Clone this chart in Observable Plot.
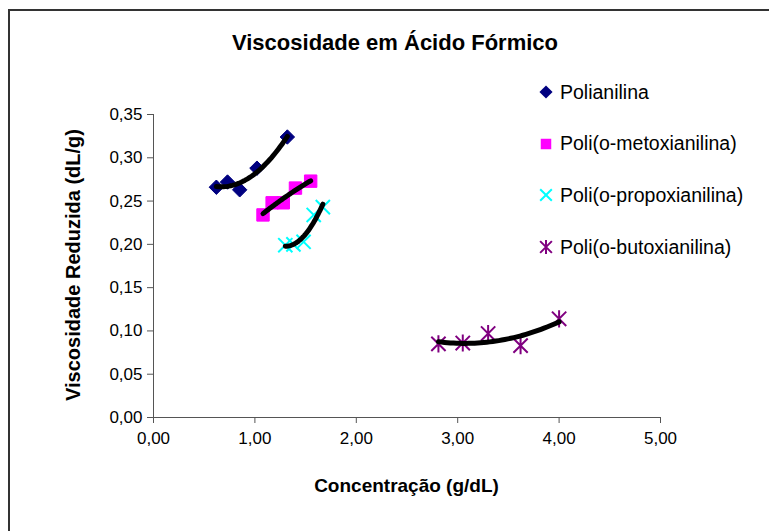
<!DOCTYPE html>
<html>
<head>
<meta charset="utf-8">
<script src="https://cdn.jsdelivr.net/npm/d3@7"></script>
<script src="https://cdn.jsdelivr.net/npm/@observablehq/plot@0.6"></script>
<style>
  body { margin: 0; background: #fff; }
  #wrap { position: relative; width: 769px; height: 531px; overflow: hidden; background: #fff;
          font-family: "Liberation Sans", Arial, sans-serif; color: #000; }
  #frame { position: absolute; left: 8px; top: 9px; width: 900px; height: 700px; border: 2px solid #333; box-sizing: border-box; }
  #title { position: absolute; left: 0; width: 790px; top: 30px; text-align: center; font-weight: bold; font-size: 22px; }
  #chart { position: absolute; left: 0; top: 0; }
  .xlab { position: absolute; left: 153px; width: 507px; top: 475px; text-align: center; font-weight: bold; font-size: 19px; }
  .ylab { position: absolute; left: 73px; top: 265px; transform: translate(-50%, -50%) rotate(-90deg); white-space: nowrap; font-weight: bold; font-size: 20px; }
  #legend { position: absolute; left: 538px; top: 80px; }
  .item { position: absolute; left: 0; height: 24px; display: flex; align-items: center; white-space: nowrap; font-size: 19.5px; }
  .item svg { margin-right: 6px; }
</style>
</head>
<body>
<div id="wrap">
  <div id="frame"></div>
  <div id="title">Viscosidade em Ácido Fórmico</div>
  <div id="chart"></div>
  <div class="xlab">Concentração (g/dL)</div>
  <div class="ylab">Viscosidade Reduzida (dL/g)</div>
  <div id="legend"></div>
</div>
<script>
// ---- data ----
const seriesNames = ["Polianilina", "Poli(o-metoxianilina)", "Poli(o-propoxianilina)", "Poli(o-butoxianilina)"];
const seriesColors = ["#000080", "#FF00FF", "#00FFFF", "#800080"];

const polianilinaX = [0.62, 0.73, 0.85, 1.02, 1.32];
const polianilinaY = [0.266, 0.272, 0.263, 0.288, 0.324];

const metoxiX = [1.08, 1.17, 1.28, 1.40, 1.55];
const metoxiY = [0.234, 0.248, 0.248, 0.265, 0.273];

const propoxiX = [1.30, 1.38, 1.48, 1.58, 1.67];
const propoxiY = [0.199, 0.200, 0.203, 0.234, 0.243];

const butoxiX = [2.81, 3.05, 3.30, 3.62, 4.00];
const butoxiY = [0.085, 0.086, 0.097, 0.083, 0.114];

const xTicks = [0, 1, 2, 3, 4, 5];
const yTicks = [0, 0.05, 0.10, 0.15, 0.20, 0.25, 0.30, 0.35];

// ---- build tables ----
const xs = [polianilinaX, metoxiX, propoxiX, butoxiX];
const ys = [polianilinaY, metoxiY, propoxiY, butoxiY];
const points = [];
xs.forEach((arr, s) => arr.forEach((x, i) => points.push({series: seriesNames[s], x, y: ys[s][i]})));

// order-2 polynomial least-squares trendline (as in the spreadsheet's trendline)
function polyFit2(X, Y) {
  let n = X.length, sx = 0, sx2 = 0, sx3 = 0, sx4 = 0, sy = 0, sxy = 0, sx2y = 0;
  for (let i = 0; i < n; i++) {
    const x = X[i], y = Y[i];
    sx += x; sx2 += x*x; sx3 += x*x*x; sx4 += x*x*x*x;
    sy += y; sxy += x*y; sx2y += x*x*y;
  }
  const A = [[n, sx, sx2, sy], [sx, sx2, sx3, sxy], [sx2, sx3, sx4, sx2y]];
  for (let c = 0; c < 3; c++) {
    for (let r = c + 1; r < 3; r++) {
      const f = A[r][c] / A[c][c];
      for (let k = c; k < 4; k++) A[r][k] -= f * A[c][k];
    }
  }
  const b = [0, 0, 0];
  for (let r = 2; r >= 0; r--) {
    let s = A[r][3];
    for (let k = r + 1; k < 3; k++) s -= A[r][k] * b[k];
    b[r] = s / A[r][r];
  }
  return x => b[0] + b[1]*x + b[2]*x*x;
}
const trend = [];
xs.forEach((arr, s) => {
  const f = polyFit2(arr, ys[s]);
  const lo = d3.min(arr), hi = d3.max(arr);
  d3.range(0, 41).forEach(k => {
    const x = lo + (hi - lo) * k / 40;
    trend.push({series: seriesNames[s], x, y: f(x)});
  });
});

// custom Excel-like "star" marker: an x with a vertical bar
const excelStar = {
  draw(ctx, size) {
    const r = Math.sqrt(size) * 0.62;
    ctx.moveTo(-r, -r); ctx.lineTo(r, r);
    ctx.moveTo(-r, r); ctx.lineTo(r, -r);
    ctx.moveTo(0, -r * 1.2); ctx.lineTo(0, r * 1.2);
  }
};

const fmt = d => d.toFixed(2).replace(".", ",");

const chart = Plot.plot({
  width: 769,
  height: 531,
  marginLeft: 153,
  marginRight: 109,
  marginTop: 114,
  marginBottom: 114,
  style: {fontFamily: "'Liberation Sans', Arial, sans-serif", fontSize: "17px", background: "transparent", color: "#000"},
  x: {domain: [0, 5]},
  y: {domain: [0, 0.35]},
  marks: [
    Plot.ruleY([0], {stroke: "#555", strokeWidth: 1}),
    Plot.ruleX([0], {stroke: "#555", strokeWidth: 1}),
    Plot.axisX({ticks: xTicks, tickFormat: fmt, tickSize: 6, tickPadding: 8, stroke: "#555", strokeOpacity: 1, label: null, fill: "#000"}),
    Plot.axisY({ticks: yTicks, tickFormat: fmt, tickSize: 6, tickPadding: 5, stroke: "#555", strokeOpacity: 1, label: null, fill: "#000"}),
    // markers
    Plot.dot(points.filter(d => d.series === seriesNames[0]), {x: "x", y: "y", symbol: "diamond2", r: 6.5, fill: seriesColors[0], stroke: seriesColors[0], strokeWidth: 1}),
    Plot.dot(points.filter(d => d.series === seriesNames[1]), {x: "x", y: "y", symbol: "square", r: 7, fill: seriesColors[1], stroke: seriesColors[1], strokeWidth: 1}),
    Plot.dot(points.filter(d => d.series === seriesNames[2]), {x: "x", y: "y", symbol: "times", r: 6.5, fill: "none", stroke: seriesColors[2], strokeWidth: 2}),
    Plot.dot(points.filter(d => d.series === seriesNames[3]), {x: "x", y: "y", symbol: excelStar, r: 6.5, fill: "none", stroke: seriesColors[3], strokeWidth: 2}),
    // trendlines
    Plot.line(trend, {x: "x", y: "y", z: "series", stroke: "#000", strokeWidth: 5, strokeLinecap: "round", curve: "linear"})
  ]
});
document.getElementById("chart").appendChild(chart);

// legend
const legend = document.getElementById("legend");
const legendSymbols = [d3.symbolDiamond2, d3.symbolSquare, d3.symbolTimes, excelStar];
seriesNames.forEach((name, i) => {
  const item = document.createElement("div");
  item.className = "item";
  item.style.top = (i * 51.7) + "px";
  const svg = d3.create("svg").attr("width", 16).attr("height", 16).attr("viewBox", "-8 -8 16 16");
  const path = d3.symbol(legendSymbols[i], i < 2 ? 110 : 90)();
  svg.append("path").attr("d", path)
    .attr("fill", i < 2 ? seriesColors[i] : "none")
    .attr("stroke", seriesColors[i])
    .attr("stroke-width", i < 2 ? 0 : 2);
  item.appendChild(svg.node());
  const span = document.createElement("span");
  span.textContent = name;
  item.appendChild(span);
  legend.appendChild(item);
});
</script>
</body>
</html>
